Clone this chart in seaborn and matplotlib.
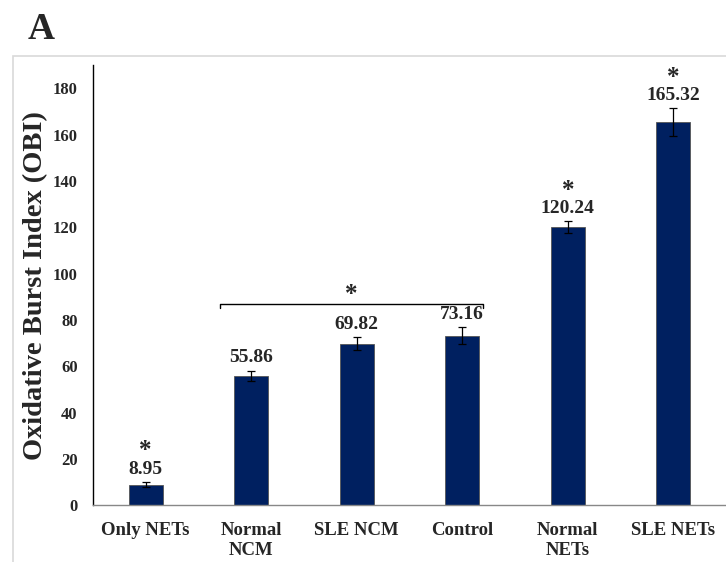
import pandas as pd
import matplotlib.pyplot as plt
import seaborn as sns
from matplotlib.patches import Rectangle

# data
groups = ["Only NETs", "Normal\nNCM", "SLE NCM", "Control", "Normal\nNETs", "SLE NETs"]
obi = [8.95, 55.86, 69.82, 73.16, 120.24, 165.32]
obi_err = [1.2, 2.3, 2.9, 3.6, 2.5, 6.0]
starred = [True, False, False, False, True, True]
bracket_groups = (1, 3)
bracket_level = 87

df = pd.DataFrame({"group": groups, "OBI": obi})

sns.set_style("white")
plt.rcParams["font.family"] = ["Liberation Serif", "DejaVu Serif"]
plt.rcParams["font.weight"] = "bold"

fig = plt.figure(figsize=(7.26, 5.62), dpi=100)
ax = fig.add_axes([0.128, 0.101, 0.872, 0.783])

# light frame around the panel
fig.add_artist(Rectangle((0.018, -0.05), 1.1, 0.95, transform=fig.transFigure,
                         fill=False, edgecolor="#d9d9d9", linewidth=1.2))

sns.barplot(data=df, x="group", y="OBI", color="#002060", width=0.32,
            edgecolor="#555555", linewidth=0.6, saturation=1, ax=ax)
ax.errorbar(range(len(obi)), obi, yerr=obi_err, fmt="none", ecolor="black",
            elinewidth=0.9, capsize=3, capthick=0.9)

for i, (v, e, s) in enumerate(zip(obi, obi_err, starred)):
    ax.annotate(f"{v:.2f}", (i, v + e), xytext=(0, 3), textcoords="offset points",
                ha="center", va="bottom", fontsize=14, fontweight="bold")
    if s:
        ax.annotate("*", (i, v + e), xytext=(0, 14), textcoords="offset points",
                    ha="center", va="bottom", fontsize=18, fontweight="bold")

# significance bracket
x0, x1 = bracket_groups
x0, x1 = x0 - 0.3, x1 + 0.2
ax.plot([x0, x0, x1, x1], [bracket_level - 2, bracket_level, bracket_level, bracket_level - 2],
        color="black", linewidth=1)
ax.text((x0 + x1) / 2, bracket_level - 1, "*", ha="center", va="bottom",
        fontsize=18, fontweight="bold")

ax.set_xlim(-0.5, 5.5)
ax.set_ylim(0, 190)
ax.set_yticks(range(0, 181, 20))
ax.set_xlabel("")
ax.set_ylabel("Oxidative Burst Index (OBI)", fontsize=20.5, fontweight="bold", labelpad=3)
ax.tick_params(axis="y", labelsize=12, length=0, pad=11)
ax.tick_params(axis="x", labelsize=13.5, length=0, pad=12)
for lab in ax.get_xticklabels() + ax.get_yticklabels():
    lab.set_fontweight("bold")

sns.despine(ax=ax)
ax.spines["left"].set_color("black")
ax.spines["left"].set_linewidth(1)
ax.spines["bottom"].set_color("#888888")
ax.spines["bottom"].set_linewidth(1)

fig.text(0.038, 0.93, "A", fontsize=27, fontweight="bold")

plt.savefig("out.png", dpi=100)
